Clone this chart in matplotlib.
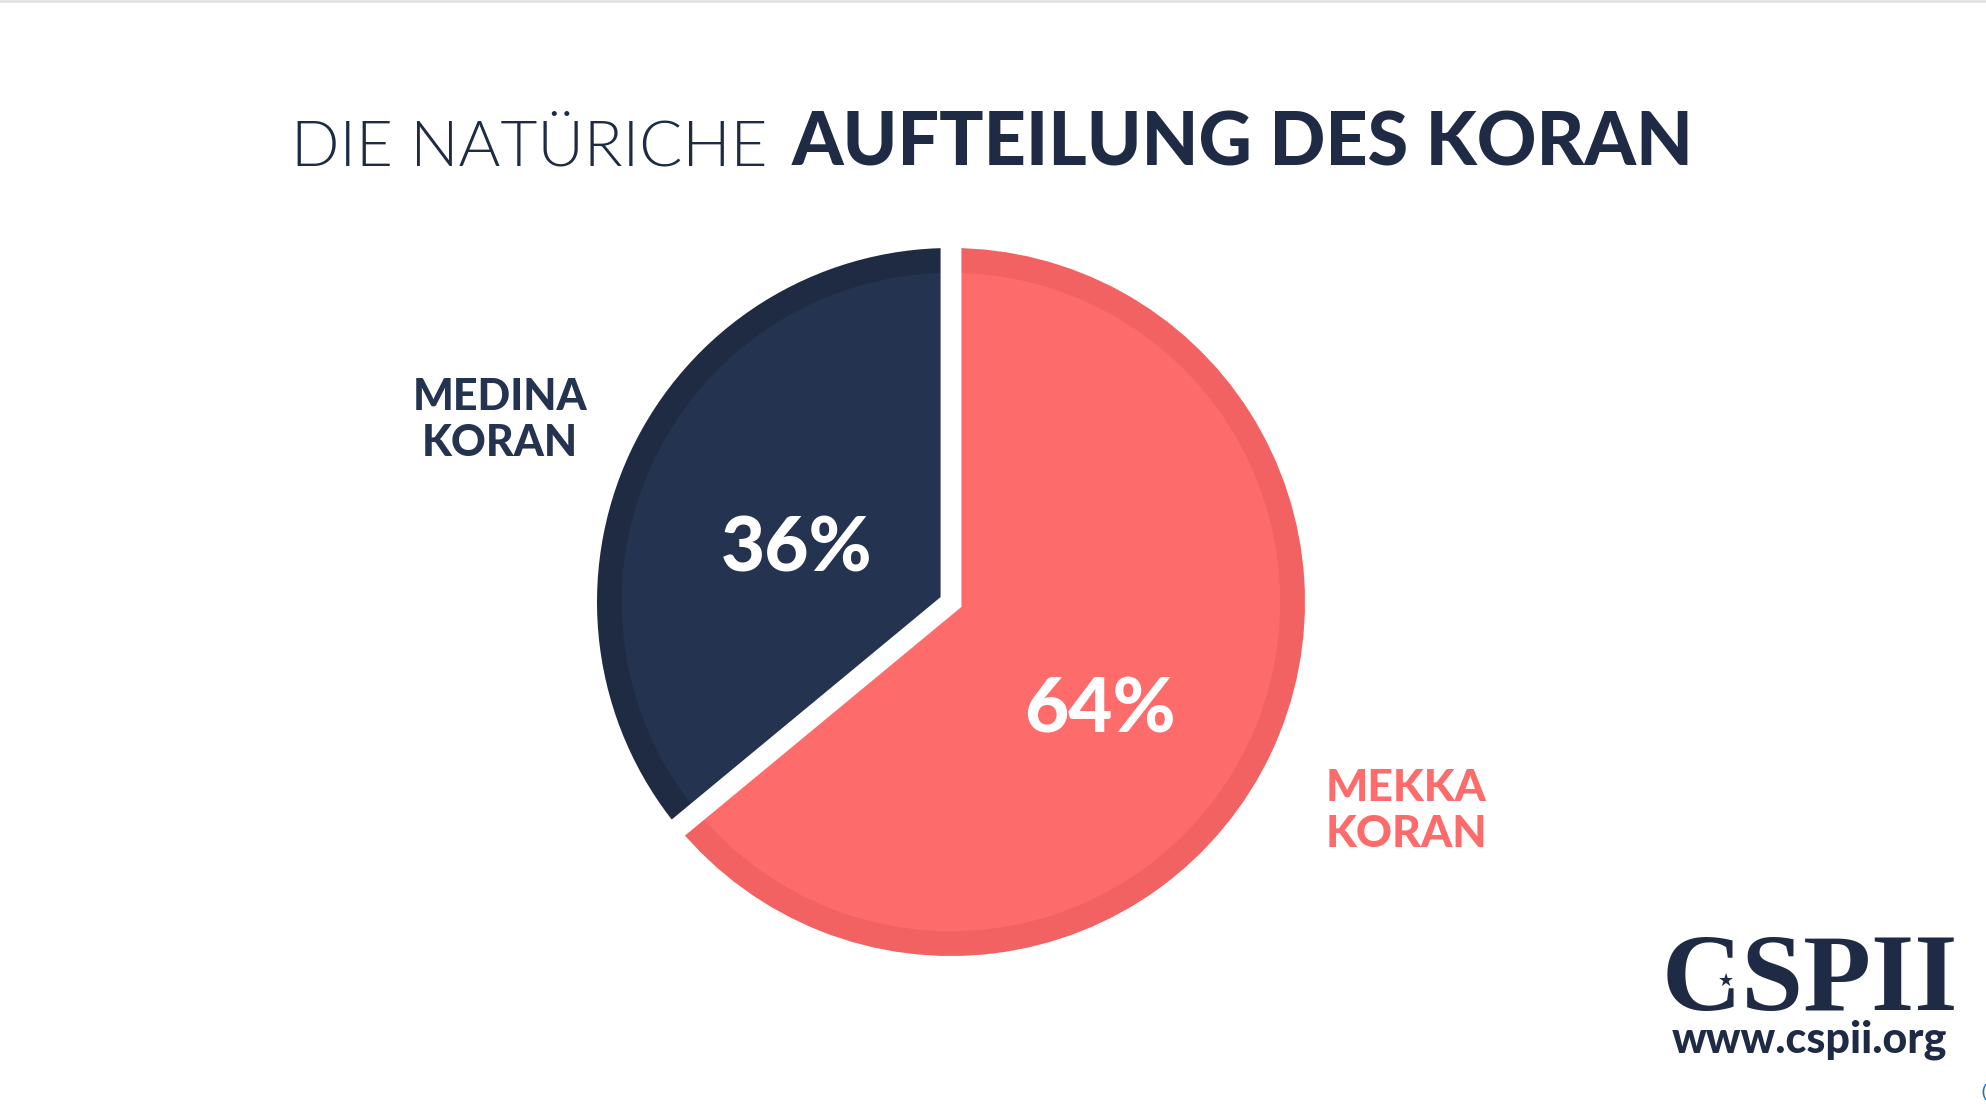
import numpy as np
import matplotlib.pyplot as plt

# data
labels = ["MEDINA\nKORAN", "MEKKA\nKORAN"]
shares = [36, 64]
colors = ["#243350", "#fe6b6b"]
rim_colors = ["#1f2b43", "#f26262"]
title_thin = "DIE NATÜRICHE"
title_bold = "AUFTEILUNG DES KORAN"

W, H = 1986, 1108
navy = "#1f2b45"

fig = plt.figure(figsize=(W / 100, H / 100), dpi=100)
fig.patch.set_facecolor("white")


def px(x, y):
    return x / W, 1 - y / H


# thin grey line along the top edge
fig.add_artist(plt.Line2D([0, 1], [0.999, 0.999], color="#e4e4e4", lw=2))

# pie, outer radius 354 px around (951, 602)
cx, cy, R = 951, 602, 354
ax = fig.add_axes([(cx - R) / W, 1 - (cy + R) / H, 2 * R / W, 2 * R / H])
for rad, cols in [(1.0, rim_colors), (0.93, colors)]:
    ax.pie(shares, colors=cols, radius=rad, startangle=90, counterclock=True,
           labeldistance=None, wedgeprops=dict(linewidth=0))

# white gap between slices
ang = np.deg2rad(90 + 360 * np.cumsum([0] + shares[:1]) / sum(shares))
ax.plot([1.1 * np.cos(ang[0]), 0, 1.1 * np.cos(ang[1])],
        [1.1 * np.sin(ang[0]), 0, 1.1 * np.sin(ang[1])],
        color="white", lw=15, solid_joinstyle="miter", solid_capstyle="butt")
ax.set_xlim(-1, 1)
ax.set_ylim(-1, 1)
ax.set_aspect("equal")
ax.axis("off")

# percentages
ax.text(-0.435, 0.085, "{}%".format(shares[0]), color="white", fontsize=55,
        fontweight="black", family="Lato", ha="center", va="baseline")
ax.text(0.42, -0.37, "{}%".format(shares[1]), color="white", fontsize=55,
        fontweight="black", family="Lato", ha="center", va="baseline")

# slice labels
fig.text(*px(500, 420), labels[0], color=colors[0], fontsize=31, fontweight="black",
         family="Lato", ha="center", va="center", linespacing=1.2)
fig.text(*px(1406, 811), labels[1], color=colors[1], fontsize=32, fontweight="black",
         family="Lato", ha="center", va="center", linespacing=1.2)

# title in two weights
r = fig.canvas.get_renderer()
t1 = fig.text(*px(291, 165), title_thin, color=navy, fontsize=46, fontweight=300,
              family="Lato", ha="left", va="baseline")
bb = t1.get_window_extent(renderer=r)
t2 = fig.text((bb.x1 + 24) / W, 1 - 165 / H, title_bold, color=navy, fontsize=53,
              fontweight="black", family="Lato", ha="left", va="baseline")

# logo
fig.text(*px(1810, 1010), "CSPII", color=navy, fontsize=80, fontweight="bold",
         family="Liberation Serif", ha="center", va="baseline")
fig.text(*px(1726, 981), "★", color=navy, fontsize=13, family="DejaVu Sans",
         ha="center", va="center")
fig.text(*px(1809, 1052), "www.cspii.org", color=navy, fontsize=31, fontweight="black",
         family="Lato", ha="center", va="baseline")
fig.text(*px(1980, 1093), "(", color="#1f6fd6", fontsize=13, ha="left", va="center")

fig.savefig("out.png", dpi=100, facecolor="white")
